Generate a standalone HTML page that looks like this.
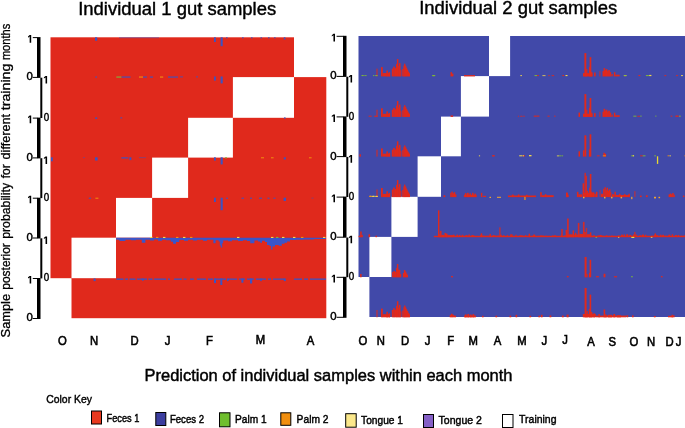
<!DOCTYPE html>
<html><head><meta charset="utf-8"><title>chart</title>
<style>html,body{margin:0;padding:0;background:#fff;overflow:hidden}svg{display:block;will-change:transform}text{font-family:"Liberation Sans",sans-serif;fill:#000;stroke:#000;stroke-width:0.25px}</style>
</head><body>
<svg width="685" height="428" viewBox="0 0 685 428">
<rect x="0" y="0" width="685" height="428" fill="#fff"/>
<g>
<rect x="50.5" y="37.3" width="275.8" height="280.90" fill="#e0291c"/>
<rect x="294" y="35.8" width="33.80" height="41.30" fill="#fff"/>
<rect x="232.9" y="77.1" width="61.10" height="40.70" fill="#fff"/>
<rect x="188.1" y="117.8" width="44.80" height="39.80" fill="#fff"/>
<rect x="152.1" y="157.6" width="36.00" height="40.30" fill="#fff"/>
<rect x="116.0" y="197.9" width="36.10" height="39.80" fill="#fff"/>
<rect x="71.5" y="237.7" width="44.50" height="40.50" fill="#fff"/>
<rect x="49.0" y="278.2" width="22.50" height="41.50" fill="#fff"/>
</g>
<g>
<rect x="358.5" y="36.0" width="326.5" height="281.00" fill="#4149a9"/>
<rect x="489" y="34.5" width="21.10" height="41.60" fill="#fff"/>
<rect x="460.9" y="76.1" width="28.10" height="40.50" fill="#fff"/>
<rect x="441.0" y="116.6" width="19.90" height="39.70" fill="#fff"/>
<rect x="417.6" y="156.3" width="23.40" height="40.50" fill="#fff"/>
<rect x="391.4" y="196.8" width="26.20" height="40.10" fill="#fff"/>
<rect x="369.4" y="236.9" width="22.00" height="40.10" fill="#fff"/>
<rect x="357.0" y="277.0" width="12.40" height="41.50" fill="#fff"/>
</g>
<g>
<rect x="376.1" y="68.6" width="1.8" height="7.8" fill="#e0291c" fill-opacity="0.55"/>
<rect x="381.0" y="67.1" width="1.8" height="9.3" fill="#e0291c"/>
<rect x="382.6" y="73.1" width="7.4" height="3.3" fill="#e0291c"/>
<rect x="386.4" y="70.5" width="1.5" height="5.9" fill="#e0291c"/>
<rect x="388.7" y="72.1" width="1.5" height="4.3" fill="#e0291c"/>
<rect x="391.8" y="68.6" width="1.7" height="7.8" fill="#e0291c"/>
<rect x="393.2" y="66.6" width="1.7" height="9.8" fill="#e0291c"/>
<rect x="394.6" y="68.1" width="1.7" height="8.3" fill="#e0291c"/>
<rect x="396.0" y="64.1" width="1.3" height="12.3" fill="#e0291c"/>
<rect x="396.9" y="59.1" width="1.5" height="17.3" fill="#e0291c"/>
<rect x="398.1" y="66.1" width="1.3" height="10.3" fill="#e0291c"/>
<rect x="399.0" y="63.1" width="1.5" height="13.3" fill="#e0291c"/>
<rect x="400.2" y="70.1" width="1.2" height="6.3" fill="#e0291c"/>
<rect x="402.2" y="69.1" width="1.5" height="7.3" fill="#e0291c"/>
<rect x="403.4" y="65.6" width="1.3" height="10.8" fill="#e0291c"/>
<rect x="404.1" y="63.7" width="1.3" height="12.7" fill="#e0291c"/>
<rect x="405.0" y="65.6" width="1.3" height="10.8" fill="#e0291c"/>
<rect x="405.9" y="67.6" width="1.3" height="8.8" fill="#e0291c"/>
<rect x="406.9" y="69.6" width="1.3" height="6.8" fill="#e0291c"/>
<rect x="407.9" y="71.6" width="1.3" height="4.8" fill="#e0291c"/>
<rect x="408.9" y="73.1" width="1.1" height="3.3" fill="#e0291c"/>
<rect x="583.0" y="73.1" width="9.4" height="3.3" fill="#e0291c"/>
<rect x="584.4" y="53.1" width="1.9" height="23.3" fill="#e0291c"/>
<rect x="586.1" y="69.1" width="1.3" height="7.3" fill="#e0291c"/>
<rect x="588.9" y="67.1" width="1.3" height="9.3" fill="#e0291c"/>
<rect x="589.6" y="57.1" width="1.7" height="19.3" fill="#e0291c"/>
<rect x="591.1" y="72.1" width="1.3" height="4.3" fill="#e0291c"/>
<rect x="594.1" y="72.5" width="1.6" height="3.9" fill="#e0291c"/>
<rect x="599.2" y="71.1" width="1.3" height="5.3" fill="#e0291c" fill-opacity="0.6"/>
<rect x="602.5" y="71.1" width="1.5" height="5.3" fill="#e0291c"/>
<rect x="603.6" y="68.1" width="1.6" height="8.3" fill="#e0291c"/>
<rect x="604.9" y="70.1" width="1.3" height="6.3" fill="#e0291c"/>
<rect x="605.9" y="69.1" width="1.5" height="7.3" fill="#e0291c"/>
<rect x="607.1" y="71.1" width="1.3" height="5.3" fill="#e0291c"/>
<rect x="608.1" y="70.1" width="1.8" height="6.3" fill="#e0291c"/>
<rect x="609.6" y="72.1" width="1.5" height="4.3" fill="#e0291c"/>
<rect x="611.4" y="74.1" width="1.3" height="2.3" fill="#e0291c"/>
<rect x="613.9" y="72.1" width="1.5" height="4.3" fill="#e0291c"/>
<rect x="615.2" y="74.7" width="4.5" height="1.7" fill="#e0291c"/>
<rect x="365.2" y="75.0" width="1.3" height="1.1" fill="#7fb53a"/>
<rect x="373.1" y="75.1" width="1.2" height="1.0" fill="#7fb53a"/>
<rect x="363.4" y="75.1" width="1.2" height="1.0" fill="#7fb53a"/>
<rect x="361.5" y="75.0" width="1.9" height="1.1" fill="#7fb53a"/>
<rect x="375.2" y="75.1" width="2.4" height="1.0" fill="#7fb53a"/>
<rect x="450.5" y="72.1" width="1.5" height="4.3" fill="#e0291c"/>
<rect x="451.8" y="73.6" width="1.6" height="2.8" fill="#e0291c"/>
<rect x="464.0" y="75.1" width="11" height="1.3" fill="#e0291c"/>
<rect x="432.8" y="75.1" width="1.9" height="1.0" fill="#7fb53a"/>
<rect x="432.0" y="75.2" width="1.3" height="0.9" fill="#7fb53a"/>
<rect x="432.6" y="75.2" width="2.2" height="0.9" fill="#7fb53a"/>
<rect x="432.9" y="75.2" width="2.4" height="0.9" fill="#7fb53a"/>
<rect x="551.7" y="75.2" width="2.4" height="0.9" fill="#e0291c"/>
<rect x="565.5" y="75.0" width="2.0" height="1.1" fill="#f5d94a"/>
<rect x="534.5" y="75.1" width="2.7" height="1.0" fill="#7fb53a"/>
<rect x="520.3" y="75.2" width="1.7" height="0.9" fill="#f5d94a"/>
<rect x="562.4" y="75.0" width="1.6" height="1.1" fill="#e0291c"/>
<rect x="548.3" y="75.2" width="1.4" height="0.9" fill="#e0291c"/>
<rect x="542.4" y="75.3" width="3.1" height="0.8" fill="#f5d94a"/>
<rect x="537.1" y="75.2" width="1.8" height="0.9" fill="#e0291c"/>
<rect x="624.5" y="75.2" width="1.2" height="0.9" fill="#e0291c"/>
<rect x="623.9" y="75.0" width="2.5" height="1.1" fill="#f5d94a"/>
<rect x="638.5" y="75.0" width="1.8" height="1.1" fill="#e0291c"/>
<rect x="681.1" y="75.1" width="1.8" height="1.0" fill="#f5d94a"/>
<rect x="623.8" y="75.2" width="2.7" height="0.9" fill="#7fb53a"/>
<rect x="645.9" y="75.1" width="3.0" height="1.0" fill="#7fb53a"/>
<rect x="649.2" y="74.9" width="2.2" height="1.2" fill="#f5d94a"/>
<rect x="676.2" y="75.1" width="1.6" height="1.0" fill="#e0291c"/>
<rect x="664.4" y="75.2" width="1.8" height="0.9" fill="#e0291c"/>
<rect x="376.1" y="109.7" width="1.8" height="7.2" fill="#e0291c" fill-opacity="0.55"/>
<rect x="381.0" y="108.3" width="1.8" height="8.6" fill="#e0291c"/>
<rect x="382.6" y="113.8" width="7.4" height="3.1" fill="#e0291c"/>
<rect x="386.4" y="111.4" width="1.5" height="5.5" fill="#e0291c"/>
<rect x="388.7" y="112.9" width="1.5" height="4.0" fill="#e0291c"/>
<rect x="391.8" y="109.7" width="1.7" height="7.2" fill="#e0291c"/>
<rect x="393.2" y="107.9" width="1.7" height="9.0" fill="#e0291c"/>
<rect x="394.6" y="109.2" width="1.7" height="7.7" fill="#e0291c"/>
<rect x="396.0" y="105.6" width="1.3" height="11.3" fill="#e0291c"/>
<rect x="396.9" y="101.0" width="1.5" height="15.9" fill="#e0291c"/>
<rect x="398.1" y="107.4" width="1.3" height="9.5" fill="#e0291c"/>
<rect x="399.0" y="104.6" width="1.5" height="12.3" fill="#e0291c"/>
<rect x="400.2" y="111.1" width="1.2" height="5.8" fill="#e0291c"/>
<rect x="402.2" y="110.2" width="1.5" height="6.7" fill="#e0291c"/>
<rect x="403.4" y="106.9" width="1.3" height="10.0" fill="#e0291c"/>
<rect x="404.1" y="105.2" width="1.3" height="11.7" fill="#e0291c"/>
<rect x="405.0" y="106.9" width="1.3" height="10.0" fill="#e0291c"/>
<rect x="405.9" y="108.8" width="1.3" height="8.1" fill="#e0291c"/>
<rect x="406.9" y="110.6" width="1.3" height="6.3" fill="#e0291c"/>
<rect x="407.9" y="112.5" width="1.3" height="4.4" fill="#e0291c"/>
<rect x="408.9" y="113.8" width="1.1" height="3.1" fill="#e0291c"/>
<rect x="583.0" y="113.7" width="9.4" height="3.2" fill="#e0291c"/>
<rect x="584.4" y="94.1" width="1.9" height="22.8" fill="#e0291c"/>
<rect x="586.1" y="109.7" width="1.3" height="7.2" fill="#e0291c"/>
<rect x="588.9" y="107.8" width="1.3" height="9.1" fill="#e0291c"/>
<rect x="589.6" y="98.0" width="1.7" height="18.9" fill="#e0291c"/>
<rect x="591.1" y="112.7" width="1.3" height="4.2" fill="#e0291c"/>
<rect x="594.1" y="113.1" width="1.6" height="3.8" fill="#e0291c"/>
<rect x="599.2" y="111.7" width="1.3" height="5.2" fill="#e0291c" fill-opacity="0.6"/>
<rect x="602.5" y="111.7" width="1.5" height="5.2" fill="#e0291c"/>
<rect x="603.6" y="108.8" width="1.6" height="8.1" fill="#e0291c"/>
<rect x="604.9" y="110.7" width="1.3" height="6.2" fill="#e0291c"/>
<rect x="605.9" y="109.7" width="1.5" height="7.2" fill="#e0291c"/>
<rect x="607.1" y="111.7" width="1.3" height="5.2" fill="#e0291c"/>
<rect x="608.1" y="110.7" width="1.8" height="6.2" fill="#e0291c"/>
<rect x="609.6" y="112.7" width="1.5" height="4.2" fill="#e0291c"/>
<rect x="611.4" y="114.6" width="1.3" height="2.3" fill="#e0291c"/>
<rect x="613.9" y="112.7" width="1.5" height="4.2" fill="#e0291c"/>
<rect x="615.2" y="115.2" width="4.5" height="1.7" fill="#e0291c"/>
<rect x="450.6" y="115.4" width="2.5" height="1.5" fill="#e0291c"/>
<rect x="578.5" y="112.6" width="1.5" height="4.3" fill="#e0291c"/>
<rect x="523.3" y="115.8" width="1.5" height="0.8" fill="#e0291c"/>
<rect x="554.1" y="115.7" width="1.4" height="0.9" fill="#e0291c"/>
<rect x="534.7" y="115.7" width="1.8" height="0.9" fill="#e0291c"/>
<rect x="547.5" y="115.7" width="2.1" height="0.9" fill="#e0291c"/>
<rect x="536.5" y="115.6" width="2.9" height="1.0" fill="#e0291c"/>
<rect x="533.7" y="115.7" width="1.9" height="0.9" fill="#e0291c"/>
<rect x="517.9" y="115.8" width="1.1" height="0.8" fill="#e0291c"/>
<rect x="520.2" y="115.8" width="2.3" height="0.8" fill="#e0291c"/>
<rect x="368.6" y="115.7" width="3.1" height="0.9" fill="#e0291c"/>
<rect x="374.0" y="115.8" width="2.4" height="0.8" fill="#e0291c"/>
<rect x="375.3" y="115.7" width="2.3" height="0.9" fill="#e0291c"/>
<rect x="675.2" y="115.7" width="3.2" height="0.9" fill="#e0291c"/>
<rect x="640.3" y="115.6" width="1.3" height="1.0" fill="#7fb53a"/>
<rect x="637.2" y="115.8" width="2.8" height="0.8" fill="#e0291c"/>
<rect x="633.3" y="115.7" width="3.1" height="0.9" fill="#7fb53a"/>
<rect x="655.3" y="115.6" width="1.1" height="1.0" fill="#7fb53a"/>
<rect x="676.1" y="115.7" width="2.5" height="0.9" fill="#e0291c"/>
<rect x="679.0" y="115.7" width="1.8" height="0.9" fill="#7fb53a"/>
<rect x="670.6" y="115.7" width="1.7" height="0.9" fill="#e0291c"/>
<rect x="376.1" y="149.7" width="1.8" height="6.9" fill="#e0291c" fill-opacity="0.55"/>
<rect x="381.0" y="148.4" width="1.8" height="8.2" fill="#e0291c"/>
<rect x="382.6" y="153.7" width="7.4" height="2.9" fill="#e0291c"/>
<rect x="386.4" y="151.4" width="1.5" height="5.2" fill="#e0291c"/>
<rect x="388.7" y="152.8" width="1.5" height="3.8" fill="#e0291c"/>
<rect x="391.8" y="149.7" width="1.7" height="6.9" fill="#e0291c"/>
<rect x="393.2" y="147.9" width="1.7" height="8.7" fill="#e0291c"/>
<rect x="394.6" y="149.3" width="1.7" height="7.3" fill="#e0291c"/>
<rect x="396.0" y="145.7" width="1.3" height="10.9" fill="#e0291c"/>
<rect x="396.9" y="141.3" width="1.5" height="15.3" fill="#e0291c"/>
<rect x="398.1" y="147.5" width="1.3" height="9.1" fill="#e0291c"/>
<rect x="399.0" y="144.9" width="1.5" height="11.7" fill="#e0291c"/>
<rect x="400.2" y="151.0" width="1.2" height="5.6" fill="#e0291c"/>
<rect x="402.2" y="150.1" width="1.5" height="6.5" fill="#e0291c"/>
<rect x="403.4" y="147.1" width="1.3" height="9.5" fill="#e0291c"/>
<rect x="404.1" y="145.4" width="1.3" height="11.2" fill="#e0291c"/>
<rect x="405.0" y="147.1" width="1.3" height="9.5" fill="#e0291c"/>
<rect x="405.9" y="148.8" width="1.3" height="7.8" fill="#e0291c"/>
<rect x="406.9" y="150.6" width="1.3" height="6.0" fill="#e0291c"/>
<rect x="407.9" y="152.3" width="1.3" height="4.3" fill="#e0291c"/>
<rect x="408.9" y="153.7" width="1.1" height="2.9" fill="#e0291c"/>
<rect x="584.4" y="135.3" width="1.9" height="21.3" fill="#e0291c"/>
<rect x="588.9" y="149.3" width="1.3" height="7.3" fill="#e0291c"/>
<rect x="589.6" y="134.3" width="1.7" height="22.3" fill="#e0291c"/>
<rect x="582.9" y="150.3" width="1.5" height="6.3" fill="#e0291c"/>
<rect x="603.4" y="152.8" width="1.5" height="3.8" fill="#e0291c"/>
<rect x="604.6" y="153.8" width="1.5" height="2.8" fill="#e0291c"/>
<rect x="359.4" y="154.3" width="1.5" height="2.3" fill="#e0291c"/>
<rect x="578.5" y="151.3" width="1.5" height="5.3" fill="#e0291c"/>
<rect x="558.7" y="155.4" width="2.8" height="0.9" fill="#7fb53a"/>
<rect x="492.0" y="155.4" width="2.1" height="0.9" fill="#e0291c"/>
<rect x="556.9" y="155.5" width="2.0" height="0.8" fill="#f5d94a"/>
<rect x="519.2" y="155.3" width="3.1" height="1.0" fill="#f5d94a"/>
<rect x="478.9" y="155.4" width="1.2" height="0.9" fill="#f5d94a"/>
<rect x="492.5" y="155.3" width="2.4" height="1.0" fill="#e0291c"/>
<rect x="522.7" y="155.3" width="2.4" height="1.0" fill="#e0291c"/>
<rect x="561.8" y="155.4" width="1.3" height="0.9" fill="#7fb53a"/>
<rect x="522.6" y="155.3" width="1.4" height="1.0" fill="#f5d94a"/>
<rect x="602.8" y="155.4" width="3.1" height="0.9" fill="#f18f0f"/>
<rect x="631.1" y="155.4" width="3.1" height="0.9" fill="#7fb53a"/>
<rect x="684.4" y="155.4" width="1.1" height="0.9" fill="#f18f0f"/>
<rect x="667.6" y="155.3" width="1.3" height="1.0" fill="#f18f0f"/>
<rect x="654.2" y="155.4" width="1.8" height="0.9" fill="#7fb53a"/>
<rect x="596.9" y="155.4" width="2.8" height="0.9" fill="#e0291c"/>
<rect x="642.4" y="155.4" width="3.1" height="0.9" fill="#7fb53a"/>
<rect x="669.4" y="155.4" width="1.5" height="0.9" fill="#f5d94a"/>
<rect x="640.1" y="155.4" width="2.7" height="0.9" fill="#e0291c"/>
<rect x="632.7" y="155.3" width="1.3" height="1.0" fill="#f5d94a"/>
<rect x="656.9" y="156.3" width="1.3" height="7.6" fill="#e9d92f"/>
<rect x="529.0" y="155.0" width="2.5" height="1.3" fill="#f5d94a"/>
<rect x="376.1" y="189.5" width="1.8" height="7.6" fill="#e0291c" fill-opacity="0.55"/>
<rect x="381.0" y="188.0" width="1.8" height="9.1" fill="#e0291c"/>
<rect x="382.6" y="193.9" width="7.4" height="3.2" fill="#e0291c"/>
<rect x="386.4" y="191.3" width="1.5" height="5.8" fill="#e0291c"/>
<rect x="388.7" y="192.9" width="1.5" height="4.2" fill="#e0291c"/>
<rect x="391.8" y="189.5" width="1.7" height="7.6" fill="#e0291c"/>
<rect x="393.2" y="187.5" width="1.7" height="9.6" fill="#e0291c"/>
<rect x="394.6" y="189.0" width="1.7" height="8.1" fill="#e0291c"/>
<rect x="396.0" y="185.0" width="1.3" height="12.1" fill="#e0291c"/>
<rect x="396.9" y="180.1" width="1.5" height="17.0" fill="#e0291c"/>
<rect x="398.1" y="187.0" width="1.3" height="10.1" fill="#e0291c"/>
<rect x="399.0" y="184.1" width="1.5" height="13.0" fill="#e0291c"/>
<rect x="400.2" y="190.9" width="1.2" height="6.2" fill="#e0291c"/>
<rect x="402.2" y="189.9" width="1.5" height="7.2" fill="#e0291c"/>
<rect x="403.4" y="186.5" width="1.3" height="10.6" fill="#e0291c"/>
<rect x="404.1" y="184.6" width="1.3" height="12.5" fill="#e0291c"/>
<rect x="405.0" y="186.5" width="1.3" height="10.6" fill="#e0291c"/>
<rect x="405.9" y="188.5" width="1.3" height="8.6" fill="#e0291c"/>
<rect x="406.9" y="190.4" width="1.3" height="6.7" fill="#e0291c"/>
<rect x="407.9" y="192.4" width="1.3" height="4.7" fill="#e0291c"/>
<rect x="408.9" y="193.9" width="1.1" height="3.2" fill="#e0291c"/>
<rect x="443.5" y="195.3" width="1.8" height="1.8" fill="#e0291c"/>
<rect x="450.2" y="192.8" width="1.5" height="4.3" fill="#e0291c"/>
<rect x="451.4" y="191.6" width="1.5" height="5.5" fill="#e0291c"/>
<rect x="452.6" y="193.3" width="1.5" height="3.8" fill="#e0291c"/>
<rect x="453.8" y="192.2" width="1.5" height="4.9" fill="#e0291c"/>
<rect x="455.0" y="194.3" width="1.4" height="2.8" fill="#e0291c"/>
<rect x="463.9" y="194.8" width="12.8" height="2.3" fill="#e0291c"/>
<rect x="464.9" y="193.2" width="1.5" height="3.9" fill="#e0291c"/>
<rect x="466.9" y="192.8" width="1.8" height="4.3" fill="#e0291c"/>
<rect x="469.4" y="193.4" width="1.5" height="3.7" fill="#e0291c"/>
<rect x="472.0" y="192.8" width="1.6" height="4.3" fill="#e0291c"/>
<rect x="474.4" y="193.6" width="1.5" height="3.5" fill="#e0291c"/>
<rect x="480.9" y="192.8" width="1.4" height="4.3" fill="#e0291c"/>
<rect x="483.0" y="195.8" width="3" height="1.3" fill="#e0291c"/>
<rect x="508.0" y="195.5" width="28" height="1.6" fill="#e0291c"/>
<rect x="511.9" y="194.6" width="1.8" height="2.5" fill="#e0291c"/>
<rect x="517.9" y="194.4" width="1.5" height="2.7" fill="#e0291c"/>
<rect x="525.9" y="194.8" width="1.8" height="2.3" fill="#e0291c"/>
<rect x="540.2" y="192.2" width="1.6" height="4.9" fill="#e0291c"/>
<rect x="541.7" y="195.2" width="12" height="1.9" fill="#e0291c"/>
<rect x="544.9" y="194.2" width="1.5" height="2.9" fill="#e0291c"/>
<rect x="566.1" y="192.6" width="1.5" height="4.5" fill="#e0291c"/>
<rect x="567.2" y="194.8" width="1.5" height="2.3" fill="#e0291c"/>
<rect x="566.1" y="192.8" width="1.7" height="4.3" fill="#e0291c"/>
<rect x="576.9" y="191.8" width="1.6" height="5.3" fill="#e0291c"/>
<rect x="578.3" y="194.3" width="4" height="2.8" fill="#e0291c"/>
<rect x="582.6" y="183.3" width="1.5" height="13.8" fill="#e0291c"/>
<rect x="583.0" y="192.8" width="10" height="4.3" fill="#e0291c"/>
<rect x="584.5" y="172.8" width="1.3" height="24.3" fill="#e0291c"/>
<rect x="585.6" y="175.8" width="1.3" height="21.3" fill="#e0291c"/>
<rect x="586.9" y="190.8" width="1.3" height="6.3" fill="#e0291c"/>
<rect x="589.1" y="187.8" width="1.2" height="9.3" fill="#e0291c"/>
<rect x="589.8" y="174.0" width="1.6" height="23.1" fill="#e0291c"/>
<rect x="591.1" y="191.8" width="1.3" height="5.3" fill="#e0291c"/>
<rect x="592.9" y="192.3" width="1.5" height="4.8" fill="#e0291c"/>
<rect x="594.4" y="193.8" width="1.5" height="3.3" fill="#e0291c"/>
<rect x="595.9" y="191.8" width="1.6" height="5.3" fill="#e0291c"/>
<rect x="599.4" y="189.8" width="1.4" height="7.3" fill="#e0291c" fill-opacity="0.6"/>
<rect x="601.0" y="193.8" width="2" height="3.3" fill="#e0291c"/>
<rect x="603.1" y="188.8" width="1.5" height="8.3" fill="#e0291c"/>
<rect x="604.4" y="187.2" width="1.5" height="9.9" fill="#e0291c"/>
<rect x="605.6" y="190.3" width="1.3" height="6.8" fill="#e0291c"/>
<rect x="606.6" y="187.8" width="1.5" height="9.3" fill="#e0291c"/>
<rect x="607.9" y="190.8" width="1.3" height="6.3" fill="#e0291c"/>
<rect x="608.9" y="189.3" width="1.6" height="7.8" fill="#e0291c"/>
<rect x="610.1" y="192.3" width="1.3" height="4.8" fill="#e0291c"/>
<rect x="612.0" y="194.3" width="2.5" height="2.8" fill="#e0291c"/>
<rect x="614.4" y="191.8" width="1.5" height="5.3" fill="#e0291c"/>
<rect x="615.7" y="195.0" width="14" height="2.1" fill="#e0291c"/>
<rect x="618.9" y="193.8" width="1.6" height="3.3" fill="#e0291c"/>
<rect x="623.9" y="194.2" width="1.6" height="2.9" fill="#e0291c"/>
<rect x="628.4" y="193.8" width="1.5" height="3.3" fill="#e0291c"/>
<rect x="634.1" y="191.2" width="1.5" height="5.9" fill="#e0291c" fill-opacity="0.6"/>
<rect x="639.9" y="195.6" width="1.8" height="1.5" fill="#e0291c"/>
<rect x="645.9" y="195.3" width="1.8" height="1.8" fill="#e0291c"/>
<rect x="668.6" y="194.3" width="1.5" height="2.8" fill="#e0291c"/>
<rect x="669.9" y="193.6" width="1.5" height="3.5" fill="#e0291c"/>
<rect x="671.1" y="194.4" width="1.5" height="2.7" fill="#e0291c"/>
<rect x="672.2" y="193.0" width="1.5" height="4.1" fill="#e0291c"/>
<rect x="673.5" y="194.6" width="1.3" height="2.5" fill="#e0291c"/>
<rect x="682.9" y="195.6" width="1.5" height="1.5" fill="#e0291c"/>
<rect x="375.1" y="195.9" width="2.9" height="0.9" fill="#f5d94a"/>
<rect x="369.9" y="195.8" width="1.0" height="1.0" fill="#f5d94a"/>
<rect x="371.3" y="195.9" width="2.7" height="0.9" fill="#f5d94a"/>
<rect x="369.0" y="195.8" width="2.6" height="1.0" fill="#f18f0f"/>
<rect x="372.6" y="195.8" width="2.2" height="1.0" fill="#f5d94a"/>
<rect x="376.0" y="195.9" width="1.1" height="0.9" fill="#f5d94a"/>
<rect x="524.3" y="196.8" width="1.3" height="3.2" fill="#f18f0f"/>
<rect x="583.0" y="196.8" width="1.5" height="1.5" fill="#f2a630"/>
<rect x="604.0" y="196.8" width="1.5" height="1.6" fill="#f2a630"/>
<rect x="611.0" y="196.8" width="1.5" height="1.6" fill="#f2a630"/>
<rect x="620.6" y="196.8" width="1.5" height="1.6" fill="#f2a630"/>
<rect x="631.2" y="196.8" width="1.2" height="2.4" fill="#f2a630"/>
<rect x="654.0" y="196.8" width="2" height="1.6" fill="#f2a630"/>
<rect x="658.5" y="196.8" width="1.6" height="1.4" fill="#f2a630"/>
<rect x="489.5" y="196.8" width="1.5" height="1.2" fill="#f2a630"/>
<rect x="497.0" y="196.8" width="4" height="1.0" fill="#f2a630"/>
<rect x="360.2" y="231.5" width="1.5" height="5.7" fill="#e0291c"/>
<rect x="361.5" y="234.9" width="1.3" height="2.3" fill="#e0291c"/>
<rect x="368.5" y="234.3" width="1.6" height="2.9" fill="#e0291c"/>
<rect x="375.5" y="235.7" width="1.5" height="1.5" fill="#e0291c"/>
<rect x="358.6" y="235.7" width="3" height="1.5" fill="#e0291c"/>
<rect x="433.8" y="235.8" width="251.2" height="1.4" fill="#e0291c"/>
<rect x="438.0" y="210.3" width="1.4" height="26.9" fill="#e0291c"/>
<rect x="439.1" y="233.9" width="1.3" height="3.3" fill="#e0291c"/>
<rect x="440.1" y="230.9" width="1.4" height="6.3" fill="#e0291c"/>
<rect x="441.3" y="234.9" width="3" height="2.3" fill="#e0291c"/>
<rect x="444.5" y="232.9" width="1.7" height="4.3" fill="#e0291c"/>
<rect x="445.9" y="233.7" width="1.7" height="3.5" fill="#e0291c"/>
<rect x="447.4" y="235.1" width="6" height="2.1" fill="#e0291c"/>
<rect x="452.8" y="234.7" width="1.8" height="2.2" fill="#e0291c"/>
<rect x="456.4" y="234.7" width="1.6" height="2.2" fill="#e0291c"/>
<rect x="458.8" y="234.9" width="1.7" height="2.0" fill="#e0291c"/>
<rect x="461.7" y="234.8" width="1.7" height="2.1" fill="#e0291c"/>
<rect x="465.4" y="235.1" width="2.0" height="1.8" fill="#e0291c"/>
<rect x="468.4" y="234.5" width="1.4" height="2.4" fill="#e0291c"/>
<rect x="471.4" y="235.0" width="2.2" height="1.9" fill="#e0291c"/>
<rect x="473.2" y="235.7" width="1.6" height="1.2" fill="#e0291c"/>
<rect x="476.4" y="235.8" width="1.1" height="1.1" fill="#e0291c"/>
<rect x="480.2" y="234.8" width="2.3" height="2.1" fill="#e0291c"/>
<rect x="483.1" y="235.7" width="1.9" height="1.2" fill="#e0291c"/>
<rect x="486.3" y="235.7" width="2.4" height="1.2" fill="#e0291c"/>
<rect x="489.4" y="235.5" width="1.6" height="1.4" fill="#e0291c"/>
<rect x="492.5" y="235.1" width="2.2" height="1.8" fill="#e0291c"/>
<rect x="494.6" y="235.6" width="1.7" height="1.3" fill="#e0291c"/>
<rect x="497.3" y="235.4" width="1.4" height="1.5" fill="#e0291c"/>
<rect x="500.0" y="234.7" width="1.8" height="2.2" fill="#e0291c"/>
<rect x="503.0" y="235.2" width="1.5" height="1.7" fill="#e0291c"/>
<rect x="506.8" y="234.9" width="1.1" height="2.0" fill="#e0291c"/>
<rect x="510.2" y="234.3" width="2.4" height="2.6" fill="#e0291c"/>
<rect x="512.4" y="235.7" width="1.1" height="1.2" fill="#e0291c"/>
<rect x="515.4" y="234.7" width="1.2" height="2.2" fill="#e0291c"/>
<rect x="519.4" y="235.2" width="2.1" height="1.7" fill="#e0291c"/>
<rect x="521.2" y="235.5" width="2.3" height="1.4" fill="#e0291c"/>
<rect x="525.1" y="235.0" width="1.1" height="1.9" fill="#e0291c"/>
<rect x="528.0" y="235.8" width="1.6" height="1.1" fill="#e0291c"/>
<rect x="531.4" y="235.8" width="1.9" height="1.1" fill="#e0291c"/>
<rect x="533.1" y="234.6" width="2.2" height="2.3" fill="#e0291c"/>
<rect x="537.3" y="235.8" width="1.6" height="1.1" fill="#e0291c"/>
<rect x="539.8" y="235.4" width="2.3" height="1.5" fill="#e0291c"/>
<rect x="542.2" y="235.5" width="1.7" height="1.4" fill="#e0291c"/>
<rect x="545.2" y="235.5" width="1.2" height="1.4" fill="#e0291c"/>
<rect x="548.3" y="235.8" width="1.4" height="1.1" fill="#e0291c"/>
<rect x="552.1" y="235.4" width="1.4" height="1.5" fill="#e0291c"/>
<rect x="554.3" y="235.1" width="1.5" height="1.8" fill="#e0291c"/>
<rect x="557.4" y="235.9" width="1.0" height="1.0" fill="#e0291c"/>
<rect x="560.8" y="234.7" width="1.3" height="2.2" fill="#e0291c"/>
<rect x="564.4" y="235.1" width="1.1" height="1.8" fill="#e0291c"/>
<rect x="566.6" y="234.6" width="1.7" height="2.3" fill="#e0291c"/>
<rect x="569.6" y="234.6" width="1.7" height="2.3" fill="#e0291c"/>
<rect x="573.5" y="234.8" width="1.5" height="2.1" fill="#e0291c"/>
<rect x="576.1" y="234.6" width="1.9" height="2.3" fill="#e0291c"/>
<rect x="578.5" y="235.3" width="1.1" height="1.6" fill="#e0291c"/>
<rect x="581.1" y="235.7" width="2.0" height="1.2" fill="#e0291c"/>
<rect x="584.2" y="235.5" width="1.1" height="1.4" fill="#e0291c"/>
<rect x="588.3" y="234.6" width="1.9" height="2.3" fill="#e0291c"/>
<rect x="590.4" y="235.4" width="1.4" height="1.5" fill="#e0291c"/>
<rect x="593.2" y="235.2" width="1.6" height="1.7" fill="#e0291c"/>
<rect x="597.4" y="235.5" width="2.4" height="1.4" fill="#e0291c"/>
<rect x="599.4" y="235.0" width="2.4" height="1.9" fill="#e0291c"/>
<rect x="602.5" y="235.4" width="1.0" height="1.5" fill="#e0291c"/>
<rect x="605.7" y="235.3" width="1.7" height="1.6" fill="#e0291c"/>
<rect x="608.8" y="235.6" width="1.0" height="1.3" fill="#e0291c"/>
<rect x="611.1" y="235.5" width="1.6" height="1.4" fill="#e0291c"/>
<rect x="614.0" y="235.8" width="1.4" height="1.1" fill="#e0291c"/>
<rect x="617.9" y="235.5" width="1.7" height="1.4" fill="#e0291c"/>
<rect x="621.0" y="234.7" width="2.0" height="2.2" fill="#e0291c"/>
<rect x="623.6" y="234.5" width="1.5" height="2.4" fill="#e0291c"/>
<rect x="626.2" y="234.3" width="2.0" height="2.6" fill="#e0291c"/>
<rect x="629.1" y="234.9" width="2.2" height="2.0" fill="#e0291c"/>
<rect x="632.9" y="234.5" width="2.0" height="2.4" fill="#e0291c"/>
<rect x="635.2" y="234.6" width="1.7" height="2.3" fill="#e0291c"/>
<rect x="639.3" y="235.1" width="2.1" height="1.8" fill="#e0291c"/>
<rect x="641.9" y="234.6" width="2.2" height="2.3" fill="#e0291c"/>
<rect x="645.0" y="234.8" width="1.3" height="2.1" fill="#e0291c"/>
<rect x="647.2" y="235.9" width="1.5" height="1.0" fill="#e0291c"/>
<rect x="651.3" y="235.7" width="1.8" height="1.2" fill="#e0291c"/>
<rect x="653.9" y="234.9" width="2.0" height="2.0" fill="#e0291c"/>
<rect x="656.0" y="235.1" width="2.1" height="1.8" fill="#e0291c"/>
<rect x="659.8" y="234.7" width="1.7" height="2.2" fill="#e0291c"/>
<rect x="662.1" y="234.8" width="2.0" height="2.1" fill="#e0291c"/>
<rect x="665.1" y="235.5" width="1.4" height="1.4" fill="#e0291c"/>
<rect x="668.3" y="234.7" width="2.0" height="2.2" fill="#e0291c"/>
<rect x="671.7" y="234.3" width="1.5" height="2.6" fill="#e0291c"/>
<rect x="675.0" y="235.1" width="2.1" height="1.8" fill="#e0291c"/>
<rect x="678.0" y="234.9" width="1.1" height="2.0" fill="#e0291c"/>
<rect x="680.4" y="235.7" width="2.0" height="1.2" fill="#e0291c"/>
<rect x="683.9" y="235.4" width="1.0" height="1.5" fill="#e0291c"/>
<rect x="480.8" y="233.3" width="1.4" height="3.9" fill="#e0291c"/>
<rect x="489.5" y="233.9" width="1.4" height="3.3" fill="#e0291c"/>
<rect x="499.0" y="227.3" width="1.8" height="9.9" fill="#e0291c" fill-opacity="0.6"/>
<rect x="528.6" y="233.7" width="1.5" height="3.5" fill="#e0291c"/>
<rect x="561.1" y="229.0" width="1.8" height="8.2" fill="#e0291c" fill-opacity="0.8"/>
<rect x="565.6" y="229.9" width="1.7" height="7.3" fill="#e0291c"/>
<rect x="567.0" y="218.5" width="1.8" height="18.7" fill="#e0291c" fill-opacity="0.85"/>
<rect x="566.0" y="234.4" width="8" height="2.8" fill="#e0291c"/>
<rect x="572.6" y="230.4" width="1.5" height="6.8" fill="#e0291c"/>
<rect x="574.9" y="232.9" width="1.5" height="4.3" fill="#e0291c"/>
<rect x="577.8" y="222.9" width="1.6" height="14.3" fill="#e0291c" fill-opacity="0.9"/>
<rect x="579.2" y="233.9" width="4" height="3.3" fill="#e0291c"/>
<rect x="582.9" y="221.9" width="1.7" height="15.3" fill="#e0291c" fill-opacity="0.9"/>
<rect x="584.2" y="231.9" width="1.7" height="5.3" fill="#e0291c"/>
<rect x="585.8" y="227.9" width="1.4" height="9.3" fill="#e0291c" fill-opacity="0.8"/>
<rect x="587.0" y="234.3" width="4" height="2.9" fill="#e0291c"/>
<rect x="589.9" y="232.4" width="1.4" height="4.8" fill="#e0291c"/>
<rect x="634.0" y="231.9" width="1.7" height="5.3" fill="#e0291c" fill-opacity="0.7"/>
<rect x="654.6" y="233.4" width="1.5" height="3.8" fill="#e0291c"/>
<rect x="595.5" y="236.9" width="1.6" height="0.9" fill="#7fb53a"/>
<rect x="650.8" y="236.9" width="1.6" height="0.9" fill="#f5d94a"/>
<rect x="631.9" y="236.9" width="2.7" height="1.0" fill="#7fb53a"/>
<rect x="618.1" y="236.9" width="1.2" height="0.9" fill="#f5d94a"/>
<rect x="631.3" y="236.9" width="2.8" height="1.0" fill="#f5d94a"/>
<rect x="360.1" y="274.0" width="1.5" height="3.3" fill="#e0291c"/>
<rect x="392.1" y="272.0" width="1.7" height="5.3" fill="#e0291c"/>
<rect x="393.5" y="271.0" width="1.7" height="6.3" fill="#e0291c"/>
<rect x="394.9" y="272.0" width="1.5" height="5.3" fill="#e0291c"/>
<rect x="396.1" y="268.0" width="1.3" height="9.3" fill="#e0291c"/>
<rect x="396.9" y="264.0" width="1.4" height="13.3" fill="#e0291c"/>
<rect x="398.0" y="269.5" width="1.3" height="7.8" fill="#e0291c"/>
<rect x="398.9" y="270.0" width="1.4" height="7.3" fill="#e0291c"/>
<rect x="399.9" y="274.0" width="1.3" height="3.3" fill="#e0291c"/>
<rect x="402.9" y="273.0" width="1.3" height="4.3" fill="#e0291c"/>
<rect x="403.9" y="270.0" width="1.4" height="7.3" fill="#e0291c"/>
<rect x="405.0" y="271.5" width="1.3" height="5.8" fill="#e0291c"/>
<rect x="406.0" y="273.5" width="1.3" height="3.8" fill="#e0291c"/>
<rect x="406.9" y="275.0" width="1.1" height="2.3" fill="#e0291c"/>
<rect x="584.6" y="257.0" width="2" height="20.3" fill="#e0291c"/>
<rect x="586.5" y="274.0" width="1.1" height="3.3" fill="#e0291c"/>
<rect x="588.9" y="273.0" width="1.1" height="4.3" fill="#e0291c"/>
<rect x="589.6" y="259.8" width="1.6" height="17.5" fill="#e0291c"/>
<rect x="603.6" y="273.8" width="1.8" height="3.5" fill="#e0291c"/>
<rect x="451.0" y="276.1" width="2" height="1.2" fill="#e0291c"/>
<rect x="566.9" y="276.1" width="1.7" height="1.2" fill="#e0291c"/>
<rect x="596.0" y="276.2" width="3" height="1.1" fill="#e0291c"/>
<rect x="614.0" y="276.2" width="3" height="1.1" fill="#e0291c"/>
<rect x="660.9" y="276.1" width="1.7" height="1.2" fill="#e0291c"/>
<rect x="631.2" y="276.1" width="1.5" height="1.2" fill="#7fb53a"/>
<rect x="376.1" y="310.0" width="1.8" height="7.3" fill="#e0291c" fill-opacity="0.55"/>
<rect x="381.0" y="308.6" width="1.8" height="8.7" fill="#e0291c"/>
<rect x="382.6" y="314.2" width="7.4" height="3.1" fill="#e0291c"/>
<rect x="386.4" y="311.8" width="1.5" height="5.5" fill="#e0291c"/>
<rect x="388.7" y="313.3" width="1.5" height="4.0" fill="#e0291c"/>
<rect x="391.8" y="310.0" width="1.7" height="7.3" fill="#e0291c"/>
<rect x="393.2" y="308.2" width="1.7" height="9.1" fill="#e0291c"/>
<rect x="394.6" y="309.6" width="1.7" height="7.7" fill="#e0291c"/>
<rect x="396.0" y="305.8" width="1.3" height="11.5" fill="#e0291c"/>
<rect x="396.9" y="301.2" width="1.5" height="16.1" fill="#e0291c"/>
<rect x="398.1" y="307.7" width="1.3" height="9.6" fill="#e0291c"/>
<rect x="399.0" y="304.9" width="1.5" height="12.4" fill="#e0291c"/>
<rect x="400.2" y="311.4" width="1.2" height="5.9" fill="#e0291c"/>
<rect x="402.2" y="310.5" width="1.5" height="6.8" fill="#e0291c"/>
<rect x="403.4" y="307.2" width="1.3" height="10.1" fill="#e0291c"/>
<rect x="404.1" y="305.5" width="1.3" height="11.8" fill="#e0291c"/>
<rect x="405.0" y="307.2" width="1.3" height="10.1" fill="#e0291c"/>
<rect x="405.9" y="309.1" width="1.3" height="8.2" fill="#e0291c"/>
<rect x="406.9" y="311.0" width="1.3" height="6.3" fill="#e0291c"/>
<rect x="407.9" y="312.8" width="1.3" height="4.5" fill="#e0291c"/>
<rect x="408.9" y="314.2" width="1.1" height="3.1" fill="#e0291c"/>
<rect x="449.7" y="315.0" width="1.5" height="2.3" fill="#e0291c"/>
<rect x="450.9" y="313.8" width="1.8" height="3.5" fill="#e0291c"/>
<rect x="452.4" y="314.8" width="1.6" height="2.5" fill="#e0291c"/>
<rect x="454.0" y="315.6" width="2" height="1.7" fill="#e0291c"/>
<rect x="464.0" y="315.6" width="12" height="1.7" fill="#e0291c"/>
<rect x="464.9" y="314.4" width="1.7" height="2.9" fill="#e0291c"/>
<rect x="467.4" y="314.0" width="1.7" height="3.3" fill="#e0291c"/>
<rect x="469.9" y="314.6" width="1.8" height="2.7" fill="#e0291c"/>
<rect x="472.5" y="314.2" width="1.8" height="3.1" fill="#e0291c"/>
<rect x="482.0" y="315.8" width="1.6" height="1.5" fill="#e0291c"/>
<rect x="495.5" y="315.7" width="1.6" height="1.6" fill="#e0291c"/>
<rect x="509.5" y="315.6" width="1.7" height="1.7" fill="#e0291c"/>
<rect x="515.6" y="314.8" width="1.6" height="2.5" fill="#e0291c"/>
<rect x="529.4" y="315.8" width="1.7" height="1.5" fill="#e0291c"/>
<rect x="538.4" y="315.7" width="1.7" height="1.6" fill="#e0291c"/>
<rect x="540.9" y="314.8" width="1.7" height="2.5" fill="#e0291c"/>
<rect x="549.5" y="315.4" width="1.8" height="1.9" fill="#e0291c"/>
<rect x="561.9" y="315.6" width="1.8" height="1.7" fill="#e0291c"/>
<rect x="566.6" y="314.6" width="2" height="2.7" fill="#e0291c"/>
<rect x="582.8" y="314.0" width="13" height="3.3" fill="#e0291c"/>
<rect x="584.6" y="288.0" width="2" height="29.3" fill="#e0291c"/>
<rect x="586.5" y="311.0" width="1.3" height="6.3" fill="#e0291c"/>
<rect x="588.8" y="309.0" width="1.2" height="8.3" fill="#e0291c"/>
<rect x="589.6" y="294.6" width="1.6" height="22.7" fill="#e0291c"/>
<rect x="590.9" y="312.0" width="1.5" height="5.3" fill="#e0291c"/>
<rect x="593.4" y="313.2" width="1.5" height="4.1" fill="#e0291c"/>
<rect x="596.0" y="315.6" width="30" height="1.7" fill="#e0291c"/>
<rect x="598.4" y="314.0" width="1.5" height="3.3" fill="#e0291c"/>
<rect x="603.6" y="309.5" width="1.6" height="7.8" fill="#e0291c"/>
<rect x="605.1" y="314.4" width="1.5" height="2.9" fill="#e0291c"/>
<rect x="608.0" y="314.8" width="4" height="2.5" fill="#e0291c"/>
<rect x="613.4" y="314.0" width="1.7" height="3.3" fill="#e0291c"/>
<rect x="617.0" y="315.2" width="4" height="2.1" fill="#e0291c"/>
<rect x="626.5" y="315.2" width="1.7" height="2.1" fill="#e0291c"/>
<rect x="632.0" y="315.4" width="1.6" height="1.9" fill="#e0291c"/>
<rect x="653.9" y="316.0" width="1.7" height="1.3" fill="#e0291c"/>
<rect x="668.0" y="315.8" width="5" height="1.5" fill="#e0291c"/>
<rect x="671.5" y="314.8" width="1.7" height="2.5" fill="#e0291c"/>
<rect x="673.1" y="315.4" width="1.5" height="1.9" fill="#e0291c"/>
</g>
<g>
<rect x="95.0" y="37.3" width="2.2" height="3.4" fill="#3c53c2"/>
<rect x="119.0" y="37.3" width="40" height="0.9" fill="#3c53c2" fill-opacity="0.55"/>
<rect x="214.0" y="37.3" width="1.8" height="4.7" fill="#3c53c2"/>
<rect x="220.6" y="37.3" width="2.1" height="8.9" fill="#3c53c2"/>
<rect x="226.0" y="37.3" width="1.6" height="1.0" fill="#3c53c2"/>
<rect x="242.0" y="37.3" width="1.6" height="1.0" fill="#3c53c2"/>
<rect x="251.0" y="37.3" width="1.6" height="1.0" fill="#3c53c2"/>
<rect x="260.5" y="37.3" width="1.6" height="1.0" fill="#3c53c2"/>
<rect x="268.0" y="37.3" width="1.6" height="1.0" fill="#3c53c2"/>
<rect x="274.0" y="37.3" width="1.6" height="1.0" fill="#3c53c2"/>
<rect x="283.8" y="37.3" width="1.6" height="2.2" fill="#3c53c2"/>
<rect x="95.4" y="76.5" width="1.6" height="1.1" fill="#3c53c2"/>
<rect x="121.5" y="76.5" width="9" height="1.1" fill="#3c53c2"/>
<rect x="143.0" y="76.5" width="4" height="1.1" fill="#3c53c2"/>
<rect x="150.0" y="76.5" width="3" height="1.1" fill="#3c53c2"/>
<rect x="168.0" y="76.5" width="10" height="1.1" fill="#3c53c2"/>
<rect x="214.0" y="76.5" width="1.8" height="4.1" fill="#3c53c2"/>
<rect x="220.6" y="76.5" width="2.1" height="6.9" fill="#3c53c2"/>
<rect x="180.0" y="76.5" width="3" height="0.8" fill="#3c53c2"/>
<rect x="196.0" y="76.5" width="2" height="0.8" fill="#3c53c2"/>
<rect x="116.3" y="76.5" width="5" height="1.1" fill="#7fb53a"/>
<rect x="139.0" y="76.5" width="4" height="1.1" fill="#f18f0f"/>
<rect x="160.0" y="76.5" width="3.2" height="1.1" fill="#f18f0f"/>
<rect x="95.2" y="117.4" width="2" height="1.5" fill="#3c53c2"/>
<rect x="120.4" y="117.4" width="1.8" height="1.0" fill="#3c53c2"/>
<rect x="284.0" y="117.4" width="1.6" height="1.2" fill="#3c53c2"/>
<rect x="51.0" y="157.3" width="1.8" height="4.0" fill="#3c53c2"/>
<rect x="95.0" y="157.3" width="2.6" height="3.2" fill="#3c53c2"/>
<rect x="121.3" y="157.3" width="7" height="1.2" fill="#3c53c2"/>
<rect x="129.4" y="157.3" width="2" height="2.8" fill="#3c53c2"/>
<rect x="139.0" y="157.3" width="7" height="0.8" fill="#3c53c2" fill-opacity="0.6"/>
<rect x="83.0" y="157.3" width="2" height="0.8" fill="#3c53c2" fill-opacity="0.6"/>
<rect x="214.0" y="157.3" width="1.8" height="3.3" fill="#3c53c2"/>
<rect x="220.6" y="157.3" width="2.1" height="7.1" fill="#3c53c2"/>
<rect x="283.8" y="157.3" width="2" height="2.2" fill="#3c53c2"/>
<rect x="261.0" y="157.3" width="3" height="1.0" fill="#f18f0f"/>
<rect x="271.0" y="157.3" width="2.6" height="1.0" fill="#f18f0f"/>
<rect x="309.0" y="157.3" width="2.6" height="1.0" fill="#f18f0f"/>
<rect x="225.0" y="157.3" width="2" height="1.0" fill="#7fb53a"/>
<rect x="88.8" y="197.7" width="2.2" height="1.0" fill="#3c53c2"/>
<rect x="214.0" y="197.7" width="1.8" height="4.3" fill="#3c53c2"/>
<rect x="220.6" y="197.7" width="2.1" height="12.5" fill="#3c53c2"/>
<rect x="226.0" y="197.7" width="2" height="1.0" fill="#3c53c2"/>
<rect x="241.5" y="197.7" width="2.4" height="1.0" fill="#3c53c2"/>
<rect x="250.0" y="197.7" width="2" height="1.0" fill="#3c53c2"/>
<rect x="259.0" y="197.7" width="3" height="1.0" fill="#3c53c2"/>
<rect x="267.5" y="197.7" width="2" height="1.0" fill="#3c53c2"/>
<rect x="273.5" y="197.7" width="2" height="1.0" fill="#3c53c2"/>
<rect x="283.6" y="197.7" width="2.4" height="3.2" fill="#3c53c2"/>
<rect x="311.5" y="197.7" width="2" height="0.8" fill="#3c53c2" fill-opacity="0.6"/>
<rect x="95.4" y="197.7" width="3" height="1.0" fill="#f18f0f"/>
<path d="M116.2,237.8 V239.8 H119.4 V241.0 H125.4 V239.8 H131 V240.3 H136 V239.7 H141.8 V242.8 H145.4 V239.8 H150 V240.5 H154 V239.6 H158 V240.8 H162 V239.7 H166 V240.3 H170.8 V241.7 H173 V243.7 H176 V242.1 H179.2 V240.1 H184 V240.8 H188 V239.7 H193 V240.5 H197 V239.7 H203 V240.8 H207 V239.8 H213.4 V243.3 H215.6 V240.3 H218.6 V241.4 H219.8 V245.5 H220.8 V247.4 H222.2 V243.2 H223.2 V240.5 H228 V241.2 H232 V240.3 H238 V241.0 H243 V240.3 H247 V241.0 H250.2 V243.3 H254.4 V240.5 H258 V241.4 H260.2 V242.8 H262 V240.8 H265 V241.9 H267 V244.9 H269.5 V246.0 H271 V249.5 H272.4 V246.5 H275 V245.1 H278.6 V245.8 H281.8 V243.7 H284.5 V242.8 H287 V241.4 H290 V240.1 H296 V239.7 H304 V239.4 H314 V239.1 H325.9 V237.8 Z" fill="#3b55c8"/>
<rect x="150" y="236.9" width="2.4" height="1.1" fill="#f5d94a"/>
<rect x="156" y="236.9" width="2.4" height="1.1" fill="#f18f0f"/>
<rect x="163" y="236.9" width="2.4" height="1.1" fill="#f5d94a"/>
<rect x="176" y="236.9" width="2.4" height="1.1" fill="#f18f0f"/>
<rect x="183" y="236.9" width="2.4" height="1.1" fill="#f5d94a"/>
<rect x="190" y="236.9" width="2.4" height="1.1" fill="#f18f0f"/>
<rect x="237" y="236.9" width="2.4" height="1.1" fill="#f5d94a"/>
<rect x="271" y="236.9" width="2.4" height="1.1" fill="#f5d94a"/>
<rect x="276" y="236.9" width="2.4" height="1.1" fill="#7fb53a"/>
<rect x="282" y="236.9" width="2.4" height="1.1" fill="#f5d94a"/>
<rect x="293" y="236.9" width="2.4" height="1.1" fill="#f5d94a"/>
<rect x="301" y="236.9" width="2.4" height="1.1" fill="#f18f0f"/>
<rect x="323" y="236.9" width="2.4" height="1.1" fill="#f5d94a"/>
<rect x="116.5" y="278.5" width="7" height="1.3" fill="#3c53c2"/>
<rect x="125.0" y="278.5" width="3" height="1.3" fill="#3c53c2"/>
<rect x="129.5" y="278.5" width="6" height="1.3" fill="#3c53c2"/>
<rect x="137.0" y="278.5" width="10" height="1.3" fill="#3c53c2"/>
<rect x="148.5" y="278.5" width="4" height="1.3" fill="#3c53c2"/>
<rect x="154.0" y="278.5" width="12" height="1.3" fill="#3c53c2"/>
<rect x="168.0" y="278.5" width="2" height="1.3" fill="#3c53c2"/>
<rect x="174.0" y="278.5" width="8" height="1.3" fill="#3c53c2"/>
<rect x="183.5" y="278.5" width="3" height="1.3" fill="#3c53c2"/>
<rect x="190.0" y="278.5" width="4" height="1.3" fill="#3c53c2"/>
<rect x="197.0" y="278.5" width="9" height="1.3" fill="#3c53c2"/>
<rect x="208.0" y="278.5" width="5" height="1.3" fill="#3c53c2"/>
<rect x="214.0" y="278.5" width="12" height="1.3" fill="#3c53c2"/>
<rect x="228.0" y="278.5" width="9" height="1.3" fill="#3c53c2"/>
<rect x="239.0" y="278.5" width="6" height="1.3" fill="#3c53c2"/>
<rect x="247.0" y="278.5" width="7" height="1.3" fill="#3c53c2"/>
<rect x="256.0" y="278.5" width="10" height="1.3" fill="#3c53c2"/>
<rect x="268.0" y="278.5" width="3" height="1.3" fill="#3c53c2"/>
<rect x="273.0" y="278.5" width="12" height="1.3" fill="#3c53c2"/>
<rect x="294.0" y="278.5" width="8" height="1.3" fill="#3c53c2"/>
<rect x="304.0" y="278.5" width="4" height="1.3" fill="#3c53c2"/>
<rect x="310.0" y="278.5" width="16" height="1.3" fill="#3c53c2"/>
<rect x="93.6" y="278.5" width="2" height="2.6" fill="#3c53c2"/>
<rect x="142.0" y="278.5" width="1.6" height="2.2" fill="#3c53c2"/>
<rect x="214.0" y="278.5" width="2" height="4.6" fill="#3c53c2"/>
<rect x="220.3" y="278.5" width="2" height="6.5" fill="#3c53c2"/>
<rect x="227.0" y="278.5" width="1.6" height="2.6" fill="#3c53c2"/>
<rect x="241.4" y="278.5" width="2" height="4.2" fill="#3c53c2"/>
<rect x="250.0" y="278.5" width="2.2" height="5.0" fill="#3c53c2"/>
<rect x="260.2" y="278.5" width="1.6" height="2.6" fill="#3c53c2"/>
<rect x="283.8" y="278.5" width="2" height="2.6" fill="#3c53c2"/>
</g>
<rect x="37.0" y="37.10" width="3.5" height="40.80" fill="#000"/>
<rect x="32.8" y="37.10" width="4.6" height="1" fill="#000"/>
<rect x="32.8" y="76.90" width="4.6" height="1" fill="#000"/>
<path d="M29.65,35.10 H31.20 V42.70 H29.65 V36.60 L28.00,37.70 V36.45 Z" fill="#000"/>
<text transform="translate(32.9,80.3) scale(1.14,1)" font-size="10" style="stroke-width:0.4px" text-anchor="end">0</text>
<rect x="40.3" y="77.70" width="2" height="40.30" fill="#000"/>
<path d="M45.55,75.90 H47.10 V83.50 H45.55 V77.40 L43.90,78.50 V77.25 Z" fill="#000"/>
<text transform="translate(43.7,120.9) scale(0.98,1)" font-size="10" style="stroke-width:0.4px" text-anchor="start">0</text>
<rect x="37.0" y="117.60" width="3.5" height="40.80" fill="#000"/>
<rect x="32.8" y="117.60" width="4.6" height="1" fill="#000"/>
<rect x="32.8" y="157.40" width="4.6" height="1" fill="#000"/>
<path d="M29.65,115.60 H31.20 V123.20 H29.65 V117.10 L28.00,118.20 V116.95 Z" fill="#000"/>
<text transform="translate(32.9,160.8) scale(1.14,1)" font-size="10" style="stroke-width:0.4px" text-anchor="end">0</text>
<rect x="40.3" y="158.20" width="2" height="39.90" fill="#000"/>
<path d="M45.55,156.40 H47.10 V164.00 H45.55 V157.90 L43.90,159.00 V157.75 Z" fill="#000"/>
<text transform="translate(43.7,201.0) scale(0.98,1)" font-size="10" style="stroke-width:0.4px" text-anchor="start">0</text>
<rect x="37.0" y="197.70" width="3.5" height="40.80" fill="#000"/>
<rect x="32.8" y="197.70" width="4.6" height="1" fill="#000"/>
<rect x="32.8" y="237.50" width="4.6" height="1" fill="#000"/>
<path d="M29.65,195.70 H31.20 V203.30 H29.65 V197.20 L28.00,198.30 V197.05 Z" fill="#000"/>
<text transform="translate(32.9,240.9) scale(1.14,1)" font-size="10" style="stroke-width:0.4px" text-anchor="end">0</text>
<rect x="40.3" y="238.30" width="2" height="40.10" fill="#000"/>
<path d="M45.55,236.50 H47.10 V244.10 H45.55 V238.00 L43.90,239.10 V237.85 Z" fill="#000"/>
<text transform="translate(43.7,281.3) scale(0.98,1)" font-size="10" style="stroke-width:0.4px" text-anchor="start">0</text>
<rect x="37.0" y="278.00" width="3.5" height="41.00" fill="#000"/>
<rect x="32.8" y="278.00" width="4.6" height="1" fill="#000"/>
<rect x="32.8" y="318.00" width="4.6" height="1" fill="#000"/>
<path d="M29.65,276.00 H31.20 V283.60 H29.65 V277.50 L28.00,278.60 V277.35 Z" fill="#000"/>
<text transform="translate(32.9,321.4) scale(1.14,1)" font-size="10" style="stroke-width:0.4px" text-anchor="end">0</text>
<rect x="343.0" y="35.80" width="3.5" height="41.10" fill="#000"/>
<rect x="336.6" y="35.80" width="6.8" height="1" fill="#000"/>
<rect x="336.6" y="75.90" width="6.8" height="1" fill="#000"/>
<path d="M333.45,33.80 H335.00 V41.40 H333.45 V35.30 L331.80,36.40 V35.15 Z" fill="#000"/>
<text transform="translate(336.7,79.3) scale(1.14,1)" font-size="10" style="stroke-width:0.4px" text-anchor="end">0</text>
<rect x="346.3" y="76.70" width="2" height="40.10" fill="#000"/>
<path d="M350.55,74.90 H352.10 V82.50 H350.55 V76.40 L348.90,77.50 V76.25 Z" fill="#000"/>
<text transform="translate(348.7,119.7) scale(0.98,1)" font-size="10" style="stroke-width:0.4px" text-anchor="start">0</text>
<rect x="343.0" y="116.40" width="3.5" height="40.70" fill="#000"/>
<rect x="336.6" y="116.40" width="6.8" height="1" fill="#000"/>
<rect x="336.6" y="156.10" width="6.8" height="1" fill="#000"/>
<path d="M333.45,114.40 H335.00 V122.00 H333.45 V115.90 L331.80,117.00 V115.75 Z" fill="#000"/>
<text transform="translate(336.7,159.5) scale(1.14,1)" font-size="10" style="stroke-width:0.4px" text-anchor="end">0</text>
<rect x="346.3" y="156.90" width="2" height="40.10" fill="#000"/>
<path d="M350.55,155.10 H352.10 V162.70 H350.55 V156.60 L348.90,157.70 V156.45 Z" fill="#000"/>
<text transform="translate(348.7,199.9) scale(0.98,1)" font-size="10" style="stroke-width:0.4px" text-anchor="start">0</text>
<rect x="343.0" y="196.60" width="3.5" height="41.10" fill="#000"/>
<rect x="336.6" y="196.60" width="6.8" height="1" fill="#000"/>
<rect x="336.6" y="236.70" width="6.8" height="1" fill="#000"/>
<path d="M333.45,194.60 H335.00 V202.20 H333.45 V196.10 L331.80,197.20 V195.95 Z" fill="#000"/>
<text transform="translate(336.7,240.1) scale(1.14,1)" font-size="10" style="stroke-width:0.4px" text-anchor="end">0</text>
<rect x="346.3" y="237.50" width="2" height="39.70" fill="#000"/>
<path d="M350.55,235.70 H352.10 V243.30 H350.55 V237.20 L348.90,238.30 V237.05 Z" fill="#000"/>
<text transform="translate(348.7,280.1) scale(0.98,1)" font-size="10" style="stroke-width:0.4px" text-anchor="start">0</text>
<rect x="343.0" y="276.80" width="3.5" height="41.00" fill="#000"/>
<rect x="336.6" y="276.80" width="6.8" height="1" fill="#000"/>
<rect x="336.6" y="316.80" width="6.8" height="1" fill="#000"/>
<path d="M333.45,274.80 H335.00 V282.40 H333.45 V276.30 L331.80,277.40 V276.15 Z" fill="#000"/>
<text transform="translate(336.7,320.2) scale(1.14,1)" font-size="10" style="stroke-width:0.4px" text-anchor="end">0</text>
<text x="177.2" y="15" font-size="17.5" style="stroke-width:0.4px" text-anchor="middle" textLength="198" lengthAdjust="spacingAndGlyphs">Individual 1 gut samples</text>
<text x="518.2" y="14" font-size="17.5" style="stroke-width:0.4px" text-anchor="middle" textLength="198" lengthAdjust="spacingAndGlyphs">Individual 2 gut samples</text>
<text x="328.5" y="381" font-size="16.8" style="stroke-width:0.45px" text-anchor="middle" textLength="368" lengthAdjust="spacingAndGlyphs">Prediction of individual samples within each month</text>
<text transform="translate(9.8,337.4) rotate(-90)" font-size="12.8" style="stroke-width:0.3px" textLength="43.5" lengthAdjust="spacingAndGlyphs">Sample</text>
<text transform="translate(9.8,289.7) rotate(-90)" font-size="12.8" style="stroke-width:0.3px" textLength="46.5" lengthAdjust="spacingAndGlyphs">posterior</text>
<text transform="translate(9.8,238.8) rotate(-90)" font-size="12.8" style="stroke-width:0.3px" textLength="55.9" lengthAdjust="spacingAndGlyphs">probability</text>
<text transform="translate(9.8,178.3) rotate(-90)" font-size="12.8" style="stroke-width:0.3px" textLength="14.1" lengthAdjust="spacingAndGlyphs">for</text>
<text transform="translate(9.8,159.4) rotate(-90)" font-size="12.8" style="stroke-width:0.3px" textLength="45.4" lengthAdjust="spacingAndGlyphs">different</text>
<text transform="translate(9.8,110.3) rotate(-90)" font-size="12.8" style="stroke-width:0.3px" textLength="46.7" lengthAdjust="spacingAndGlyphs">training</text>
<text transform="translate(9.8,60.1) rotate(-90)" font-size="12.8" style="stroke-width:0.3px" textLength="36.3" lengthAdjust="spacingAndGlyphs">months</text>
<text transform="translate(62.4,345) scale(0.92,1)" font-size="12.3" style="stroke-width:0.6px" text-anchor="middle">O</text>
<text transform="translate(94,345) scale(0.92,1)" font-size="12.3" style="stroke-width:0.6px" text-anchor="middle">N</text>
<text transform="translate(134.6,345) scale(0.92,1)" font-size="12.3" style="stroke-width:0.6px" text-anchor="middle">D</text>
<text transform="translate(167.7,345) scale(0.92,1)" font-size="12.3" style="stroke-width:0.6px" text-anchor="middle">J</text>
<text transform="translate(209.5,345) scale(0.92,1)" font-size="12.3" style="stroke-width:0.6px" text-anchor="middle">F</text>
<text transform="translate(260.5,344) scale(0.92,1)" font-size="12.3" style="stroke-width:0.6px" text-anchor="middle">M</text>
<text transform="translate(310.5,345) scale(0.92,1)" font-size="12.3" style="stroke-width:0.6px" text-anchor="middle">A</text>
<text transform="translate(363,345) scale(0.92,1)" font-size="12.3" style="stroke-width:0.6px" text-anchor="middle">O</text>
<text transform="translate(380.8,345) scale(0.92,1)" font-size="12.3" style="stroke-width:0.6px" text-anchor="middle">N</text>
<text transform="translate(405,345) scale(0.92,1)" font-size="12.3" style="stroke-width:0.6px" text-anchor="middle">D</text>
<text transform="translate(427.6,345) scale(0.92,1)" font-size="12.3" style="stroke-width:0.6px" text-anchor="middle">J</text>
<text transform="translate(450.6,345) scale(0.92,1)" font-size="12.3" style="stroke-width:0.6px" text-anchor="middle">F</text>
<text transform="translate(473.3,345) scale(0.92,1)" font-size="12.3" style="stroke-width:0.6px" text-anchor="middle">M</text>
<text transform="translate(497.4,345) scale(0.92,1)" font-size="12.3" style="stroke-width:0.6px" text-anchor="middle">A</text>
<text transform="translate(522,344.7) scale(0.92,1)" font-size="12.3" style="stroke-width:0.6px" text-anchor="middle">M</text>
<text transform="translate(544.3,344.7) scale(0.92,1)" font-size="12.3" style="stroke-width:0.6px" text-anchor="middle">J</text>
<text transform="translate(565,343.5) scale(0.92,1)" font-size="12.3" style="stroke-width:0.6px" text-anchor="middle">J</text>
<text transform="translate(590.9,346) scale(0.92,1)" font-size="12.3" style="stroke-width:0.6px" text-anchor="middle">A</text>
<text transform="translate(612.3,346) scale(0.92,1)" font-size="12.3" style="stroke-width:0.6px" text-anchor="middle">S</text>
<text transform="translate(634,346) scale(0.92,1)" font-size="12.3" style="stroke-width:0.6px" text-anchor="middle">O</text>
<text transform="translate(651.2,346) scale(0.92,1)" font-size="12.3" style="stroke-width:0.6px" text-anchor="middle">N</text>
<text transform="translate(669.5,346) scale(0.92,1)" font-size="12.3" style="stroke-width:0.6px" text-anchor="middle">D</text>
<text transform="translate(678.5,346) scale(0.92,1)" font-size="12.3" style="stroke-width:0.6px" text-anchor="middle">J</text>
<text x="46.2" y="403.4" font-size="10.8" style="stroke-width:0.4px" textLength="45.8" lengthAdjust="spacingAndGlyphs">Color Key</text>
<rect x="91.5" y="411.0" width="10" height="13" fill="#e8391f" stroke="#000" stroke-width="1"/>
<text x="106.60000000000001" y="422.2" font-size="11.4" style="stroke-width:0.45px" textLength="32.800000000000004" lengthAdjust="spacingAndGlyphs">Feces 1</text>
<rect x="155.8" y="412.5" width="10" height="13" fill="#3c3e9f" stroke="#000" stroke-width="1"/>
<text x="169.9" y="423.2" font-size="11.4" style="stroke-width:0.45px" textLength="34.2" lengthAdjust="spacingAndGlyphs">Feces 2</text>
<rect x="219.5" y="412.8" width="10.5" height="14" fill="#6fbe2d" stroke="#000" stroke-width="1"/>
<text x="235.0" y="423.4" font-size="11.4" style="stroke-width:0.45px" textLength="31.6" lengthAdjust="spacingAndGlyphs">Palm 1</text>
<rect x="280.8" y="412.8" width="10" height="12.5" fill="#f18f0f" stroke="#000" stroke-width="1"/>
<text x="296.59999999999997" y="423.4" font-size="11.4" style="stroke-width:0.45px" textLength="31.900000000000002" lengthAdjust="spacingAndGlyphs">Palm 2</text>
<rect x="345.7" y="413.7" width="10.5" height="13.5" fill="#fbe88b" stroke="#000" stroke-width="1"/>
<text x="361.09999999999997" y="423.8" font-size="11.4" style="stroke-width:0.45px" textLength="41.9" lengthAdjust="spacingAndGlyphs">Tongue 1</text>
<rect x="423.5" y="414.5" width="10" height="13" fill="#8560c6" stroke="#000" stroke-width="1"/>
<text x="438.59999999999997" y="423.8" font-size="11.4" style="stroke-width:0.45px" textLength="43.300000000000004" lengthAdjust="spacingAndGlyphs">Tongue 2</text>
<rect x="502.5" y="414.5" width="10.5" height="13" fill="#ffffff" stroke="#000" stroke-width="1"/>
<text x="519.1" y="423.1" font-size="11.4" style="stroke-width:0.45px" textLength="37.4" lengthAdjust="spacingAndGlyphs">Training</text>
</svg></body></html>
